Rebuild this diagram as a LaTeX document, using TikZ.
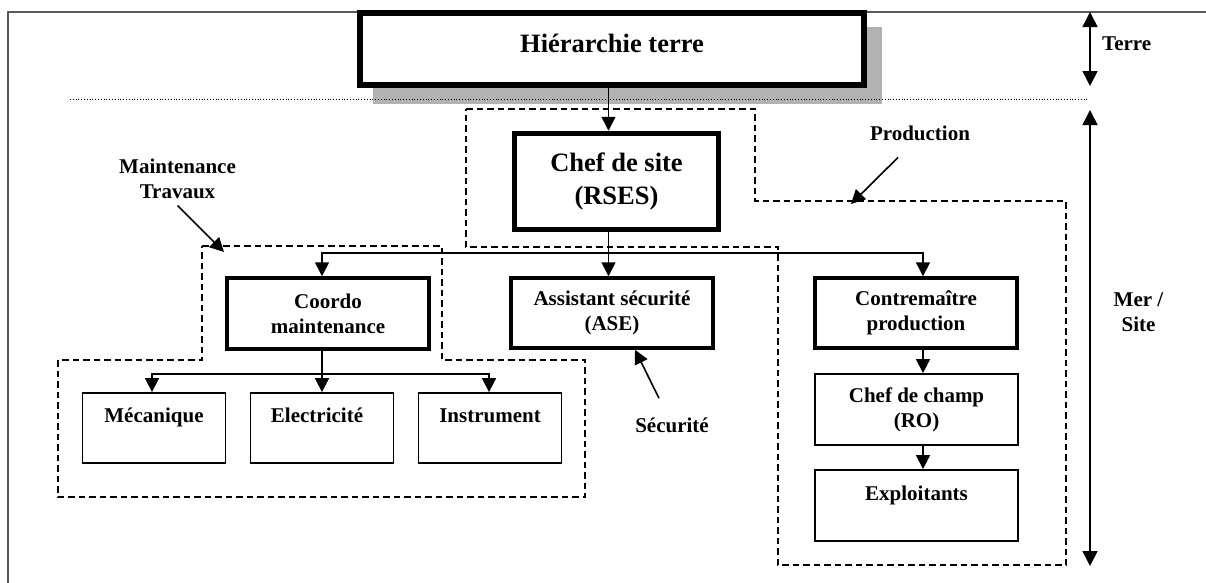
\documentclass[tikz,border=0pt]{standalone}
\usepackage{fontspec}
\setmainfont{Liberation Serif}
\usetikzlibrary{arrows.meta}
\begin{document}
\begin{tikzpicture}[x=1pt,y=-1pt,
  big/.style={font=\fontsize{26.5}{33}\selectfont\bfseries},
  small/.style={font=\fontsize{21}{25}\selectfont\bfseries},
  boxA/.style={draw, fill=white, line width=5.5pt, inner sep=0pt, align=center},
  boxB/.style={draw, fill=white, line width=3.5pt, inner sep=0pt, align=center},
  boxC/.style={draw, fill=white, line width=1.8pt, inner sep=0pt, align=center},
  arr/.style={line width=1.6pt, -{Triangle[length=14pt,width=14pt]}},
  dbl/.style={line width=1.6pt, {Triangle[length=15pt,width=15pt]}-{Triangle[length=15pt,width=15pt]}},
  zone/.style={line width=1.5pt, dash pattern=on 6.5pt off 4pt},
  lbl/.style={small, inner sep=0pt},
]
\useasboundingbox (0,0) rectangle (1206,582);
\clip (0,0) rectangle (1206,582);

% outer frame (cut by the page)
\draw[line width=1.6pt, black!65] (8,600) -- (8,12) -- (1220,12);

% shadow and separator
\fill[black!30] (373,27) rectangle (882,104);
\draw[line width=1pt, dash pattern=on 1pt off 1.8pt] (70,99) -- (1087,99);

% dashed zones
\draw[zone] (466,109) -- (755,109) -- (755,201) -- (1066,201) -- (1066,565)
  -- (778,565) -- (778,247) -- (466,247) -- cycle;
\draw[zone] (202,246) -- (442,246) -- (442,360) -- (585,360) -- (585,497)
  -- (58,497) -- (58,360) -- (202,360) -- cycle;

% boxes
\node[boxA, big, minimum width=504pt, minimum height=72pt, text height=18pt, text depth=12pt]
  (hier) at (612,49) {Hiérarchie terre};
\node[boxA, big, minimum width=204pt, minimum height=96pt]
  (chef) at (616.5,181.5) {Chef de site\\(RSES)};
\node[boxB, small, minimum width=202pt, minimum height=71pt]
  (coordo) at (328,313.5) {Coordo\\maintenance};
\node[boxB, small, minimum width=202pt, minimum height=70pt]
  (asst) at (612,313) {Assistant sécurité\\(ASE)};
\node[boxB, small, minimum width=202pt, minimum height=70pt]
  (contre) at (916,313) {Contremaître\\production};
\node[boxC, small, minimum width=143pt, minimum height=70pt]
  (meca) at (154,428) {Mécanique\\\mbox{}};
\node[boxC, small, minimum width=143pt, minimum height=70pt]
  (elec) at (322,428) {Electricité\hspace*{10pt}\\\mbox{}};
\node[boxC, small, minimum width=143pt, minimum height=70pt]
  (instr) at (490,428) {Instrument\\\mbox{}};
\node[boxC, small, minimum width=203pt, minimum height=71pt]
  (champ) at (916.5,409.5) {Chef de champ\\(RO)};
\node[boxC, small, minimum width=203pt, minimum height=71pt]
  (expl) at (916.5,505.5) {Exploitants\\\mbox{}};

% labels
\node[lbl, anchor=base west] (terre) at (1102,50) {Terre};
\node[lbl, align=center] (mer) at (1138.5,312.3) {Mer /\\Site};
\node[lbl, align=center] (maint) at (177.5,178.4) {Maintenance\\Travaux};
\node[lbl, anchor=base] (prod) at (920,140) {Production};
\node[lbl, anchor=base] (secu) at (672,432) {Sécurité};

% side arrows
\coordinate (t1) at (1090,12);
\coordinate (t2) at (1090,86);
\coordinate (m1) at (1090,110);
\coordinate (m2) at (1090,566);
\draw[dbl] (t1) -- (t2);
\draw[dbl] (m1) -- (m2);

% pointer arrows
\coordinate (mtip) at (224,252);
\coordinate (ptip) at (851,204);
\draw[arr] ([yshift=-7pt]maint.south) -- (mtip);
\draw[arr] ([xshift=-22pt,yshift=-17pt]prod.south) -- (ptip);
\draw[arr] ([xshift=-13pt,yshift=19pt]secu.north) -- ([xshift=23pt]asst.south);

% connectors
\coordinate (bus) at (608.5,253);
\coordinate (bus2) at (322,374);
\draw[arr] ([xshift=-3.5pt]hier.south) -- ([xshift=-8pt]chef.north);
\draw[arr] ([xshift=-8pt]chef.south) -- ([xshift=-3.5pt]asst.north);
\draw[arr] (bus) -| ([xshift=-6pt]coordo.north);
\draw[arr] (bus) -| ([xshift=7pt]contre.north);
\draw[line width=1.6pt] ([xshift=-6pt]coordo.south) -- (bus2);
\draw[arr] (bus2) -| ([xshift=-2pt]meca.north);
\draw[arr] (bus2) -- (elec.north);
\draw[arr] (bus2) -| ([xshift=-1pt]instr.north);
\draw[arr] ([xshift=7pt]contre.south) -- ([xshift=6.5pt]champ.north);
\draw[arr] ([xshift=6.5pt]champ.south) -- ([xshift=6.5pt]expl.north);
\end{tikzpicture}
\end{document}
